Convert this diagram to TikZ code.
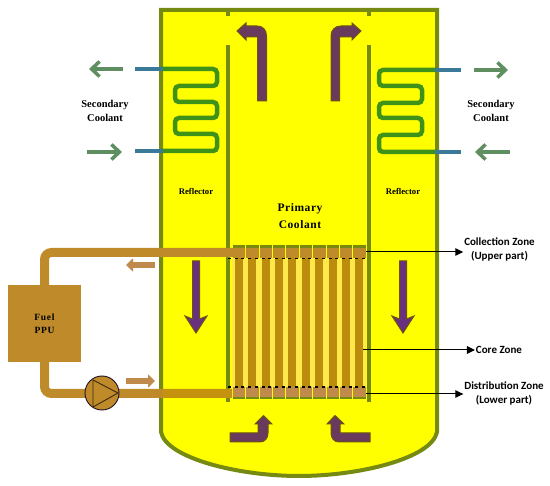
\documentclass[tikz,border=0pt]{standalone}
\usepackage{fontspec}
\setmainfont{Liberation Serif}
\newfontfamily\zonefont{Carlito}
\usetikzlibrary{arrows.meta}
\definecolor{wall}{HTML}{768A12}
\definecolor{vess}{HTML}{FFFF00}
\definecolor{coil}{HTML}{3F9218}
\definecolor{blu}{HTML}{3A7A98}
\definecolor{grn}{HTML}{5F8F60}
\definecolor{pipe}{HTML}{BF8A2A}
\definecolor{pipein}{HTML}{C4920E}
\definecolor{tube}{HTML}{BC8C0C}
\definecolor{head}{HTML}{C08A4C}
\definecolor{purp}{HTML}{6A3080}
\definecolor{purpb}{HTML}{6A3A5E}
\definecolor{edg}{HTML}{6B5412}
\definecolor{lite}{HTML}{FFE84A}
\tikzset{
  x=1pt,y=-1pt,
  wallline/.style={draw=wall,line width=4.5pt},
  coilline/.style={draw=coil,line width=4.5pt,rounded corners=4pt},
  blueline/.style={draw=blu,line width=4.5pt},
  greenarrow/.style={draw=grn,line width=3.5pt,-{Straight Barb[length=8pt,width=15pt,line width=3.5pt]}},
  pipeline/.style={draw=pipe,line width=9pt,rounded corners=7pt},
  tubebar/.style={fill=tube,minimum width=8pt,minimum height=129pt,inner sep=0pt},
  flowarrow/.style={draw=head,line width=6pt,-{Triangle[length=7pt,width=13pt]}},
  purplearrow/.style={fill=purp,draw=edg,line width=1pt,line join=miter},
  bentarrow/.style={fill=purpb,draw=edg,line width=1pt,line join=miter},
  lead/.style={draw=black,line width=1pt,-{Triangle[length=8pt,width=7.5pt]}},
  lab/.style={font=\bfseries\fontsize{10.5}{13.5}\selectfont,align=center,inner sep=0pt,text=black},
  zonelab/.style={font=\zonefont\bfseries\fontsize{11}{14}\selectfont,align=center,inner sep=0pt,outer sep=1pt,text=black},
  smalllab/.style={font=\bfseries\fontsize{8.7}{11}\selectfont,align=center,inner sep=0pt,text=black},
}
\begin{document}
\begin{tikzpicture}
\useasboundingbox (0,0) rectangle (550,486);
% vessel
\path[fill=vess,draw=wall,line width=4pt] (161,10) -- (437,10) -- (437,432)
  .. controls (432,458) and (360,476) .. (299,476)
  .. controls (238,476) and (166,458) .. (161,432) -- cycle;
% inner walls
\draw[wallline] (228,10) -- (228,16);
\draw[wallline] (369,10) -- (369,16);
\draw[wallline] (228,45) -- (228,402);
\draw[wallline] (369,45) -- (369,402);
% core background
\fill[lite] (232,258) rectangle (366,387);
% coils
\draw[coilline] (160,69) -- (217,69) -- (217,86) -- (175,86) -- (175,102) -- (217,102) -- (217,118) -- (175,118) -- (175,134) -- (217,134) -- (217,151) -- (160,151);
\draw[coilline] (437,70) -- (379,70) -- (379,86) -- (422,86) -- (422,103) -- (379,103) -- (379,118) -- (422,118) -- (422,135) -- (379,135) -- (379,152) -- (437,152);
\draw[blueline] (135,69) -- (163,69);
\draw[blueline] (135,151) -- (163,151);
\draw[blueline] (435,70) -- (461,70);
\draw[blueline] (435,152) -- (461,152);
% green arrows
\coordinate (g1a) at (123,69); \coordinate (g1b) at (89,69);
\coordinate (g2a) at (87,152); \coordinate (g2b) at (122,152);
\coordinate (g3a) at (474,70); \coordinate (g3b) at (508,70);
\coordinate (g4a) at (510,152); \coordinate (g4b) at (475,152);
\draw[greenarrow] (g1a) -- (g1b);
\draw[greenarrow] (g2a) -- (g2b);
\draw[greenarrow] (g3a) -- (g3b);
\draw[greenarrow] (g4a) -- (g4b);
% comb
\foreach \i/\x in {1/239,2/252.3,3/265.7,4/279,5/292.3,6/306,7/319.3,8/332.7,9/346,10/359.3}{
  \node[tubebar] (t\i) at (\x,322.5) {};
  \fill[wall] (\x-6.2,245) rectangle (\x+6.2,248);
  \fill[pipe] (\x-6.2,248) rectangle (\x+6.2,258);
  \fill[head] (\x-6.2,387) rectangle (\x+6.2,397);
  \fill[wall] (\x-6.2,397) rectangle (\x+6.2,399.5);
}
% pipes and fuel box
\draw[pipeline] (245,252.5) -- (44.5,252.5) -- (44.5,290);
\draw[pipeline] (44.5,360) -- (44.5,393.5) -- (232,393.5);
\fill[pipein] (163,389) rectangle (232,398);
\node[draw=none,fill=pipe,minimum width=73pt,minimum height=77pt,inner sep=0pt] (ppu) at (44.5,323.5) {};
\node[lab,font=\bfseries\addfontfeature{LetterSpace=8}\fontsize{9.5}{13}\selectfont] (ppulab) at (44.5,323.5) {Fuel\\PPU};
% pump
\node[circle,draw=black!70!purp,fill=pipe,line width=.9pt,minimum size=34pt,inner sep=0pt] (pump) at (102,393) {};
\draw[black!70!pipe,line width=.9pt,line join=round] (93,380) -- (118,393) -- (93,407) -- cycle;
% flow arrows
\coordinate (f1a) at (155,265); \coordinate (f1b) at (126,265);
\coordinate (f2a) at (126,381); \coordinate (f2b) at (155,381);
\draw[flowarrow] (f1a) -- (f1b);
\draw[flowarrow] (f2a) -- (f2b);
% dashed
\draw[black,line width=1.3pt,dash pattern=on 3pt off 3.7pt] (228,258.7) -- (366,258.7);
\draw[black,line width=1.3pt,dash pattern=on 3pt off 3.7pt] (228,387) -- (366,387);
% purple arrows: straight
\path[purplearrow] (192.5,261) -- (199.5,261) -- (199.5,319) -- (207,316) -- (196,333) -- (185,316) -- (192.5,319) -- cycle;
\path[purplearrow] (399.5,261) -- (406.5,261) -- (406.5,319) -- (414,316) -- (403,333) -- (392,316) -- (399.5,319) -- cycle;
% bent top
\path[bentarrow] (257.5,101) -- (257.5,37) -- (246,37) -- (246,40) -- (237,31) -- (246,23) -- (246,26) -- (257,26) .. controls (263,26) and (266.5,30) .. (266.5,36) -- (266.5,101) -- cycle;
\path[bentarrow] (339.5,101) -- (339.5,37) -- (352,37) -- (352,40) -- (361,31) -- (352,23) -- (352,26) -- (341,26) .. controls (335,26) and (331,30) .. (331,36) -- (331,101) -- cycle;
% bent bottom
\path[bentarrow] (230,433) -- (258,433) -- (258,424) -- (255,424) -- (263.5,415.5) -- (272,424) -- (268,424) -- (268,433) .. controls (268,438) and (265,442) .. (260,442) -- (230,442) -- cycle;
\path[bentarrow] (370,433) -- (340,433) -- (340,424) -- (344,424) -- (335,415.5) -- (327,424) -- (331,424) -- (331,433) .. controls (331,438) and (334,442) .. (339,442) -- (370,442) -- cycle;
% leaders
\node[zonelab] (coll) at (499.5,250) {Collection Zone\\(Upper part)};
\node[zonelab] (core) at (499,350) {Core Zone};
\node[zonelab] (dist) at (504,394) {Distribution Zone\\(Lower part)};
\coordinate (c1) at (366,252);
\coordinate (c2) at (363,350);
\coordinate (c3) at (366,394);
\draw[lead] (c1) -- (c1 -| coll.west);
\draw[lead] (c2) -- (c2 -| core.west);
\draw[lead] (c3) -- (c3 -| dist.west);
% labels
\node[lab] (sc1) at (105,111) {Secondary\\Coolant};
\node[lab] (sc2) at (491,111) {Secondary\\Coolant};
\node[smalllab] (r1) at (196,191.5) {Reflector};
\node[smalllab] (r2) at (403,191.5) {Reflector};
\node[lab,font=\bfseries\addfontfeature{LetterSpace=5}\fontsize{11.5}{17}\selectfont] (pc) at (300,216.5) {Primary\\Coolant};
\end{tikzpicture}
\end{document}
